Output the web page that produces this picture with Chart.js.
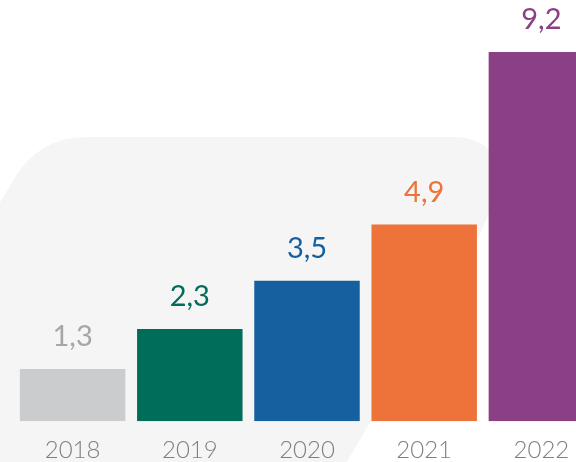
<!DOCTYPE html>
<html>
<head>
<meta charset="utf-8">
<script src="https://cdn.jsdelivr.net/npm/chart.js@4/dist/chart.umd.min.js"></script>
<style>
  html, body { margin: 0; padding: 0; background: #fff; overflow: hidden; }
  #wrap { position: absolute; left: 0; top: 0; width: 620px; height: 471px; }
</style>
</head>
<body>
<div id="wrap"><canvas id="chart"></canvas></div>
<script>
    // ---------- Data ----------
    const years = ["2018", "2019", "2020", "2021", "2022"];
    const values = [1.3, 2.3, 3.5, 4.9, 9.2];
    const barColors = ["#cbcccd", "#006d5b", "#1660a0", "#ee733a", "#8b3f84"];
    const labelColors = ["#a6a6a6", "#006d5b", "#1660a0", "#ee733a", "#8b3f84"];

    // ---------- Background shape (slanted rounded panel) ----------
    const panelPlugin = {
        id: 'panel',
        beforeDraw(chart) {
            const ctx = chart.ctx;
            const top = 137, slope = 0.595;
            const leftCorner = 39, rightCorner = 540;
            const bottom = 700;
            ctx.save();
            ctx.fillStyle = '#f5f5f5';
            ctx.beginPath();
            ctx.moveTo(87, top);
            ctx.lineTo(450, top);
            ctx.quadraticCurveTo(rightCorner, top, rightCorner - 0.51 * 160, top + 0.857 * 160);
            ctx.lineTo(rightCorner - slope * (bottom - top), bottom);
            ctx.lineTo(leftCorner - slope * (bottom - top), bottom);
            ctx.lineTo(leftCorner - 0.51 * 48, top + 0.857 * 48);
            ctx.quadraticCurveTo(leftCorner, top, 87, top);
            ctx.closePath();
            ctx.fill();
            ctx.restore();
        }
    };

    // ---------- Value labels ----------
    const valueLabels = {
        id: 'valueLabels',
        afterDatasetsDraw(chart) {
            const ctx = chart.ctx;
            const meta = chart.getDatasetMeta(0);
            ctx.save();
            ctx.font = '400 29px Lato, "Open Sans", sans-serif';
            ctx.textAlign = 'center';
            ctx.textBaseline = 'alphabetic';
            meta.data.forEach((bar, i) => {
                ctx.fillStyle = labelColors[i];
                ctx.fillText(values[i].toFixed(1).replace('.', ','), bar.x, bar.y - 23);
            });
            ctx.restore();
        }
    };

    new Chart(document.getElementById('chart'), {
        type: 'bar',
        data: {
            labels: years,
            datasets: [{ data: values, backgroundColor: barColors, borderWidth: 0, categoryPercentage: 1, barPercentage: 0.9 }]
        },
        options: {
            responsive: true,
            maintainAspectRatio: false,
            animation: false,
            layout: { padding: { left: 14, right: 20, top: 20, bottom: 0 } },
            plugins: { legend: { display: false }, tooltip: { enabled: false } },
            scales: {
                x: {
                    grid: { display: false },
                    border: { display: false },
                    ticks: { color: '#7f7f7f', padding: 6.5, font: { family: 'Lato, "Open Sans", sans-serif', size: 24, weight: 300 } }
                },
                y: { display: false, min: 0, max: 10 }
            }
        },
        plugins: [panelPlugin, valueLabels]
    });
</script>
</body>
</html>
